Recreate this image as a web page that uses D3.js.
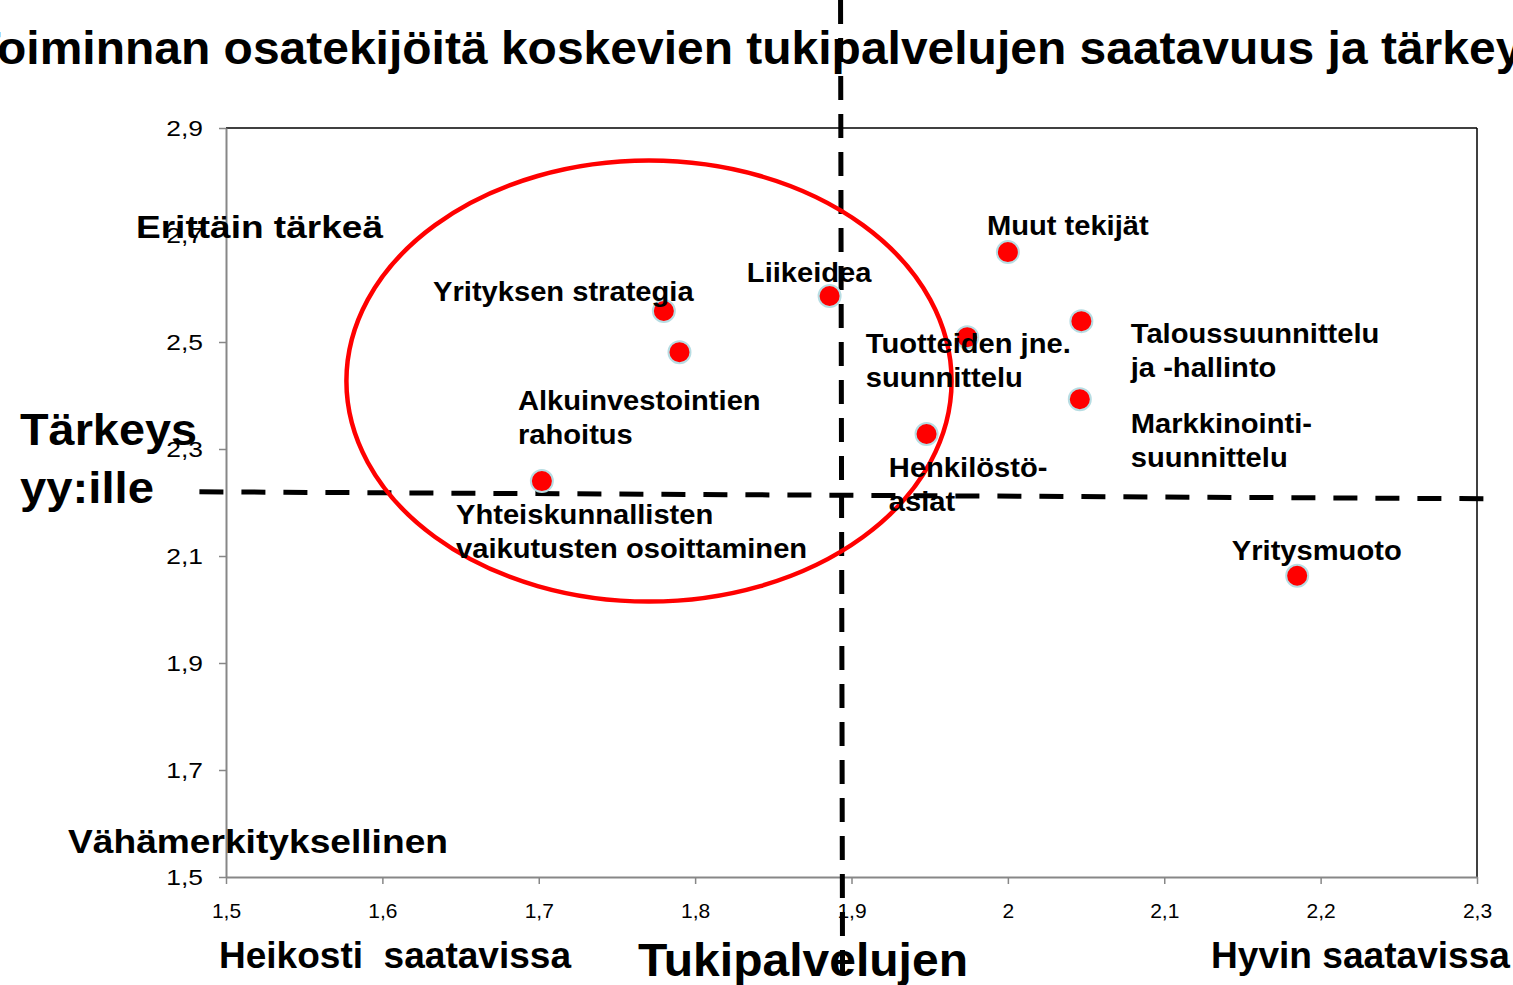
<!DOCTYPE html>
<html>
<head>
<meta charset="utf-8">
<script src="https://cdn.jsdelivr.net/npm/d3@7"></script>
<style>
  html, body { margin: 0; padding: 0; background: #fff; overflow: hidden; }
  svg { display: block; }
</style>
</head>
<body>
<div id="chart"></div>
<script>
// --- Data ---
const names = [
  "Muut tekijät",
  "Liikeidea",
  "Yrityksen strategia",
  "Alkuinvestointien rahoitus",
  "Tuotteiden jne. suunnittelu",
  "Taloussuunnittelu ja -hallinto",
  "Markkinointisuunnittelu",
  "Henkilöstöasiat",
  "Yhteiskunnallisten vaikutusten osoittaminen",
  "Yritysmuoto",
];
const saatavuus = [2.0, 1.886, 1.78, 1.79, 1.974, 2.047, 2.046, 1.948, 1.702, 2.185];
const tarkeys = [2.668, 2.586, 2.558, 2.481, 2.509, 2.539, 2.393, 2.328, 2.24, 2.063];

// label lines for each point (same order as names)
const labelLines = [
  ["Muut tekijät"],
  ["Liikeidea"],
  ["Yrityksen strategia"],
  ["Alkuinvestointien", "rahoitus"],
  ["Tuotteiden jne.", "suunnittelu"],
  ["Taloussuunnittelu", "ja -hallinto"],
  ["Markkinointi-", "suunnittelu"],
  ["Henkilöstö-", "asiat"],
  ["Yhteiskunnallisten", "vaikutusten osoittaminen"],
  ["Yritysmuoto"],
];
// label anchor in data units (left edge, first baseline)
const labelX = [1.9866, 1.8331, 1.6324, 1.6867, 1.9092, 2.0786, 2.0786, 1.9239, 1.6471, 2.1432];
const labelY = [2.7, 2.6121, 2.5766, 2.3729, 2.4794, 2.4981, 2.3299, 2.2477, 2.1598, 2.0925];

const xTicks = [1.5, 1.6, 1.7, 1.8, 1.9, 2.0, 2.1, 2.2, 2.3];
const yTicks = [1.5, 1.7, 1.9, 2.1, 2.3, 2.5, 2.7, 2.9];

// dividing lines and the highlighted group
const xDivider = 1.893;
const yDividerStart = [1.483, 2.22];
const yDividerEnd = [2.305, 2.207];
const ellipseCenter = [1.7705, 2.427];
const ellipseRadius = [0.1935, 0.4122];

// --- Dimensions ---
const width = 1513;
const height = 985;
const plot = { left: 226, right: 1477, top: 128, bottom: 877 };

const svg = d3
  .select("#chart")
  .append("svg")
  .attr("width", width)
  .attr("height", height);

const x = d3.scaleLinear().domain([1.5, 2.3]).range([plot.left, plot.right]);
const y = d3.scaleLinear().domain([1.5, 2.9]).range([plot.bottom, plot.top]);

const fmt = (d) => String(+d.toFixed(1)).replace(".", ",");
const font = "'Liberation Sans', Arial, sans-serif";

// widen text horizontally (the source chart is stretched sideways)
function stretch(sel, k) {
  sel.each(function () {
    const w = this.getComputedTextLength();
    d3.select(this).attr("textLength", w * k).attr("lengthAdjust", "spacingAndGlyphs");
  });
}

// --- Title (cut at both edges like the original) ---
const title = svg
  .append("text")
  .attr("y", 64)
  .style("font-family", font)
  .style("font-weight", "bold")
  .style("font-size", "47px")
  .attr("fill", "#000");
const firstLetter = title.append("tspan").text("T");
const rest = title.append("tspan").text("oiminnan osatekijöitä koskevien tukipalvelujen saatavuus ja tärkeys");
const wT = firstLetter.node().getComputedTextLength();
const wRest = rest.node().getComputedTextLength();
const kTitle = 1552 / wRest;
title
  .attr("x", -wT * kTitle - 3)
  .attr("textLength", (wT + wRest) * kTitle)
  .attr("lengthAdjust", "spacingAndGlyphs");

// --- Plot frame ---
svg
  .append("line")
  .attr("x1", plot.left).attr("x2", plot.right)
  .attr("y1", plot.top).attr("y2", plot.top)
  .attr("stroke", "#000").attr("stroke-width", 1.5);
svg
  .append("line")
  .attr("x1", plot.right).attr("x2", plot.right)
  .attr("y1", plot.top).attr("y2", plot.bottom)
  .attr("stroke", "#000").attr("stroke-width", 1.5);

// --- Axes ---
const xAxis = svg
  .append("g")
  .attr("transform", `translate(0,${plot.bottom})`)
  .call(d3.axisBottom(x).tickValues(xTicks).tickFormat(fmt).tickSizeInner(7).tickSizeOuter(0).tickPadding(19));
const yAxis = svg
  .append("g")
  .attr("transform", `translate(${plot.left},0)`)
  .call(d3.axisLeft(y).tickValues(yTicks).tickFormat(fmt).tickSizeInner(7).tickSizeOuter(0).tickPadding(16));

[xAxis, yAxis].forEach((g) => {
  g.select(".domain").attr("stroke", "#878787").attr("stroke-width", 2);
  g.selectAll(".tick line").attr("stroke", "#878787").attr("stroke-width", 1.5);
  g.selectAll(".tick text").attr("fill", "#000").style("font-family", font);
});
xAxis.selectAll(".tick text").style("font-size", "21px");
yAxis.selectAll(".tick text").style("font-size", "22px").call(stretch, 1.2);

// --- Dividers ---
svg
  .append("line")
  .attr("x1", x(xDivider)).attr("x2", x(xDivider) + 2)
  .attr("y1", 0).attr("y2", height)
  .attr("stroke", "#000").attr("stroke-width", 5)
  .attr("stroke-dasharray", "24 14");
svg
  .append("line")
  .attr("x1", x(yDividerStart[0])).attr("y1", y(yDividerStart[1]))
  .attr("x2", x(yDividerEnd[0])).attr("y2", y(yDividerEnd[1]))
  .attr("stroke", "#000").attr("stroke-width", 5)
  .attr("stroke-dasharray", "24 18");

// --- Points ---
const points = names.map((n, i) => ({ name: n, sx: saatavuus[i], ty: tarkeys[i] }));
svg
  .append("g")
  .selectAll("circle")
  .data(points)
  .join("circle")
  .attr("cx", (d) => x(d.sx))
  .attr("cy", (d) => y(d.ty))
  .attr("r", 11)
  .attr("fill", "#ff0000")
  .attr("stroke", "#b7dde3")
  .attr("stroke-width", 2);

// --- Ellipse ---
svg
  .append("ellipse")
  .attr("cx", x(ellipseCenter[0]))
  .attr("cy", y(ellipseCenter[1]))
  .attr("rx", x(ellipseCenter[0] + ellipseRadius[0]) - x(ellipseCenter[0]))
  .attr("ry", y(ellipseCenter[1]) - y(ellipseCenter[1] + ellipseRadius[1]))
  .attr("fill", "none")
  .attr("stroke", "#ff0000")
  .attr("stroke-width", 4.5);

// --- Point labels ---
const labels = svg
  .append("g")
  .selectAll("text")
  .data(labelLines)
  .join("text")
  .attr("x", (d, i) => x(labelX[i]))
  .attr("y", (d, i) => y(labelY[i]))
  .style("font-family", font)
  .style("font-weight", "bold")
  .style("font-size", "28px")
  .attr("fill", "#000");
labels
  .selectAll("tspan")
  .data((d, i) => d.map((line) => ({ line, i })))
  .join("tspan")
  .attr("x", (d) => x(labelX[d.i]))
  .attr("dy", (d, j) => (j === 0 ? 0 : 34))
  .text((d) => d.line)
  .call(stretch, 1.04);

// --- Quadrant annotations ---
const notes = [
  { lines: ["Erittäin tärkeä"], x: 136, y: 238, size: 32, w: [247] },
  { lines: ["Tärkeys", "yy:ille"], x: 20, y: 445, size: 44, gap: 58, w: [177, 134] },
  { lines: ["Vähämerkityksellinen"], x: 68, y: 853, size: 33, w: [380] },
  { lines: ["Heikosti  saatavissa"], x: 219, y: 968, size: 36, w: [352] },
  { lines: ["Tukipalvelujen"], x: 638, y: 976, size: 46, w: [330] },
  { lines: ["Hyvin saatavissa"], x: 1211, y: 968, size: 36, w: [299] },
];
notes.forEach((n) => {
  const t = svg
    .append("text")
    .attr("x", n.x)
    .attr("y", n.y)
    .style("font-family", font)
    .style("font-weight", "bold")
    .style("font-size", `${n.size}px`)
    .style("white-space", "pre")
    .attr("fill", "#000");
  n.lines.forEach((line, j) => {
    t.append("tspan")
      .attr("x", n.x)
      .attr("dy", j === 0 ? 0 : n.gap)
      .attr("textLength", n.w[j])
      .attr("lengthAdjust", "spacingAndGlyphs")
      .text(line);
  });
});
</script>
</body>
</html>
